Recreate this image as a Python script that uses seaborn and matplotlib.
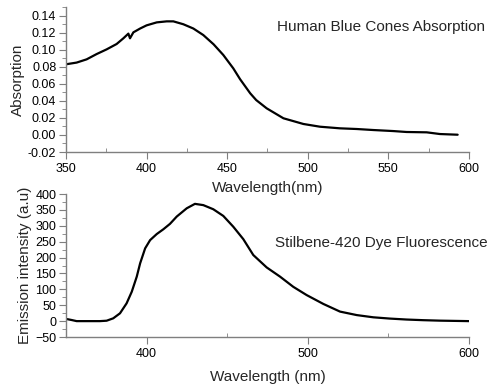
import matplotlib
matplotlib.use("Agg")
import matplotlib.pyplot as plt
from matplotlib.ticker import MultipleLocator
import seaborn as sns
import pandas as pd

# Absorption (human blue cones)
abs_wl = [350, 356.6, 362.8, 369, 375.2, 381.4, 385.6, 388.7, 389.7, 391.8, 396, 400,
          406.3, 412.5, 416.6, 422.8, 429, 435.2, 441.6, 447.6, 453.8, 458, 464.3, 468,
          474.5, 484.9, 497.3, 507.6, 520, 530.4, 540.7, 553, 561.3, 573.8, 582, 593]
abs_val = [0.083, 0.085, 0.0888, 0.095, 0.1005, 0.1068, 0.1135, 0.119, 0.1135, 0.1205,
           0.125, 0.1287, 0.1322, 0.1334, 0.1334, 0.130, 0.125, 0.1173, 0.1064, 0.0939,
           0.0782, 0.0655, 0.0489, 0.041, 0.0313, 0.0196, 0.0129, 0.0097, 0.0078, 0.007,
           0.0058, 0.0046, 0.0035, 0.0031, 0.0011, 0.0003]

# Emission (Stilbene-420 dye)
em_wl = [350, 353.5, 356.6, 362.8, 371, 375.2, 379.3, 383.5, 387.6, 390.8, 393.9, 396,
         399.1, 402.2, 406.3, 410.4, 414.5, 418.7, 424.9, 430, 435.2, 441.4, 447.6,
         453.8, 460, 466.2, 474.5, 482.8, 491, 499.3, 509.7, 520, 530.4, 540.7, 551,
         561.3, 571.6, 582, 600]
em_val = [7, 3.5, 0, 0, 0, 1.3, 8.8, 24.6, 56, 92.5, 140, 182, 229, 255, 274, 289, 306,
          329, 355, 369, 365, 352, 331, 297, 258, 208, 169, 140, 108, 82, 54, 30, 19, 12,
          8, 5, 3, 1.5, 0]

df_abs = pd.DataFrame({"wl": abs_wl, "val": abs_val})
df_em = pd.DataFrame({"wl": em_wl, "val": em_val})

sns.set_style("ticks")
plt.rcParams['font.family'] = ['Liberation Sans', 'DejaVu Sans']
plt.rcParams['font.size'] = 9

fig = plt.figure(figsize=(4.9, 3.86), dpi=100)
ax1 = fig.add_axes([0.1347, 0.6062, 0.957 - 0.1347, 0.9813 - 0.6062])
ax2 = fig.add_axes([0.1347, 0.1269, 0.957 - 0.1347, 0.4974 - 0.1269])
ax2.patch.set_alpha(0)

spine_c = "#7f7f7f"
for ax in (ax1, ax2):
    for s in ("top", "right"):
        ax.spines[s].set_visible(False)
    for s in ("left", "bottom"):
        ax.spines[s].set_color(spine_c)
        ax.spines[s].set_linewidth(1.0)
    ax.tick_params(axis="both", which="both", color=spine_c, labelsize=9, labelcolor="black")
    ax.tick_params(axis="y", which="major", direction="out", length=5, pad=2)
    ax.tick_params(axis="y", which="minor", direction="out", length=3)
    ax.tick_params(axis="x", which="major", direction="out", length=5, pad=3)
    ax.tick_params(axis="x", which="minor", direction="in", length=3)

sns.lineplot(data=df_abs, x="wl", y="val", ax=ax1, color="black", linewidth=1.6)
ax1.set_xlim(350, 600)
ax1.set_ylim(-0.02, 0.15)
ax1.xaxis.set_major_locator(MultipleLocator(50))
ax1.xaxis.set_minor_locator(MultipleLocator(25))
ax1.yaxis.set_major_locator(MultipleLocator(0.02))
ax1.yaxis.set_minor_locator(MultipleLocator(0.01))
ax1.set_yticks([-0.02, 0.0, 0.02, 0.04, 0.06, 0.08, 0.10, 0.12, 0.14])
ax1.set_yticklabels(["-0.02", "0.00", "0.02", "0.04", "0.06", "0.08", "0.10", "0.12", "0.14"])
ax1.set_xlabel("Wavelength(nm)", fontsize=11, labelpad=4)
ax1.set_ylabel("Absorption", fontsize=11, labelpad=2)
ax1.text(1.04, 0.863, "Human Blue Cones Absorption", transform=ax1.transAxes,
         ha="right", va="center", fontsize=11)

sns.lineplot(data=df_em, x="wl", y="val", ax=ax2, color="black", linewidth=1.6)
ax2.set_xlim(350, 600)
ax2.set_ylim(-50, 400)
ax2.set_xticks([400, 500, 600])
ax2.set_xticks([450, 550], minor=True)
ax2.yaxis.set_major_locator(MultipleLocator(50))
ax2.yaxis.set_minor_locator(MultipleLocator(25))
ax2.set_xlabel("Wavelength (nm)", fontsize=11, labelpad=7)
ax2.set_ylabel("Emission intensity (a.u)", fontsize=11, labelpad=2)
ax2.text(1.047, 0.657, "Stilbene-420 Dye Fluorescence", transform=ax2.transAxes,
         ha="right", va="center", fontsize=11)

fig.savefig("out.png", dpi=100)
